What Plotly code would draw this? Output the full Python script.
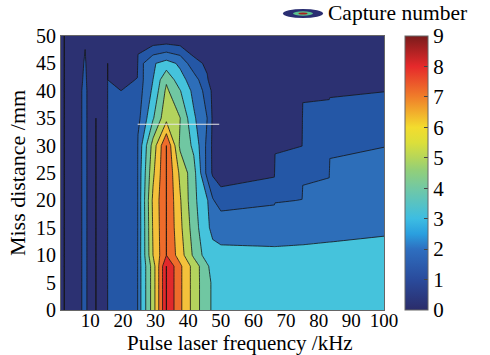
import plotly.graph_objects as go

# ---------------- data ----------------
freq_khz = [1, 2, 5, 8.4, 10, 11.7, 13.5, 15.3, 19.4, 24.4, 24.6, 29.2, 33.3,
            37.5, 41.7, 45.8, 47.5, 50, 66.4, 66.6, 74.9, 75.1, 83.2, 83.4, 100]
miss_mm = [0, 5, 8, 10, 15, 20, 25, 30, 35, 40, 42, 45, 50]

# capture number, one row per miss distance (same order as miss_mm)
cap_y00 = [0, 1.0, 0.3, 1.3, 0.4, 1.0, 0.4, 1.0, 1.5, 1.6, 2.4, 5.5, 9, 7.2, 5.6, 4.2, 3.9, 3.45, 3.4, 3.4, 3.38, 3.38, 3.35, 3.35, 3.4]
cap_y05 = [0, 1.0, 0.3, 1.3, 0.4, 1.0, 0.4, 1.0, 1.5, 1.6, 2.4, 5.5, 9, 7.2, 5.6, 4.2, 3.9, 3.27, 3.24, 3.24, 3.24, 3.24, 3.22, 3.22, 3.26]
cap_y08 = [0, 1.0, 0.3, 1.3, 0.4, 1.0, 0.4, 1.0, 1.5, 1.6, 2.4, 5.5, 9, 7.2, 5.6, 4.15, 3.6, 3.17, 3.15, 3.15, 3.15, 3.15, 3.14, 3.14, 3.17]
cap_y10 = [0, 1.0, 0.3, 1.3, 0.4, 1.0, 0.4, 1.0, 1.5, 1.6, 2.35, 6.0, 8, 6.5, 4.8, 3.5, 3.2, 3.12, 3.09, 3.09, 3.09, 3.09, 3.09, 3.09, 3.11]
cap_y15 = [0, 1.0, 0.3, 1.3, 0.4, 1.0, 0.4, 1.0, 1.5, 1.6, 2.3, 6.1, 8, 6.25, 4.5, 3.1, 2.85, 2.8, 2.8, 2.8, 2.85, 2.85, 2.9, 2.9, 2.95]
cap_y20 = [0, 1.0, 0.3, 1.3, 0.4, 1.0, 0.4, 1.0, 1.5, 1.6, 2.3, 6.2, 8, 6.1, 4.25, 3.1, 2.1, 1.49, 1.84, 1.92, 2.02, 2.23, 2.37, 2.55, 2.62]
cap_y25 = [0, 1.0, 0.3, 1.3, 0.4, 1.0, 0.4, 1.0, 1.5, 1.6, 2.3, 5.8, 8, 5.79, 4.35, 1.71, 0.85, 0.5, 0.85, 1.34, 1.49, 1.81, 1.92, 2.21, 2.30]
cap_y30 = [0, 1.0, 0.3, 1.3, 0.4, 1.0, 0.4, 1.0, 1.5, 1.6, 2.2, 5.4, 8, 4.8, 3.8, 1.75, 0.8, 0.4, 0.81, 0.85, 0.99, 1.49, 1.58, 1.81, 1.98]
cap_y35 = [0, 1.0, 0.3, 1.3, 0.4, 1.0, 0.4, 1.0, 1.5, 1.5, 1.7, 3.9, 5.7, 5.02, 3.16, 2.0, 0.85, 0.35, 0.66, 0.75, 0.79, 1.18, 1.23, 1.33, 1.48]
cap_y40 = [0, 1.0, 0.3, 1.3, 0.4, 0.5, 0.4, 1.0, 1.0, 1.3, 1.5, 3.2, 5.2, 4.05, 2.71, 1.63, 0.75, 0.3, 0.51, 0.56, 0.59, 0.86, 0.89, 0.89, 0.98]
cap_y42 = [0, 1.0, 0.3, 1.2, 0.4, 0.4, 0.4, 1.0, 0.4, 1.1, 1.45, 3.0, 4.85, 3.36, 2.52, 1.1, 0.5, 0.3, 0.45, 0.49, 0.51, 0.73, 0.75, 0.75, 0.82]
cap_y45 = [0, 1.0, 0.3, 1.1, 0.4, 0.3, 0.4, 1.0, 0.3, 0.3, 1.5, 2.89, 3.4, 2.82, 1.32, 0.83, 0.4, 0.2, 0.35, 0.38, 0.40, 0.53, 0.54, 0.54, 0.59]
cap_y50 = [0, 1.0, 0.3, 0.9, 0.4, 0.2, 0.2, 0.3, 0.1, 0.1, 0, 0, 0, 0, 0, 0, 0, 0.1, 0.2, 0.2, 0.2, 0.2, 0.2, 0.2, 0.2]
capture = [cap_y00, cap_y05, cap_y08, cap_y10, cap_y15, cap_y20, cap_y25,
           cap_y30, cap_y35, cap_y40, cap_y42, cap_y45, cap_y50]

x_ticks = [10, 20, 30, 40, 50, 60, 70, 80, 90, 100]
y_ticks = [0, 5, 10, 15, 20, 25, 30, 35, 40, 45, 50]
cb_ticks = [0, 1, 2, 3, 4, 5, 6, 7, 8, 9]

marker_line_x = [24.5, 49.5]
marker_line_y = [33.9, 33.9]

# ---------------- styles ----------------
# colours of the filled bands 0-1, 1-2, ..., 8-9
band_colors = ['#2c3172', '#2457a6', '#2d6eb9', '#45c3dc', '#70c7a2',
               '#b3d35d', '#f4c13b', '#ee6c2b', '#e1292b']
# plotly samples band k at fraction (k + 1.5)/10 of this scale
steps = [band_colors[0]] + band_colors
fill_scale = []
for i, c in enumerate(steps):
    fill_scale.append([i / len(steps), c])
    fill_scale.append([(i + 1) / len(steps), c])

cbar_scale = [[0.0, '#2b2c6a'], [1/9, '#2a4b9c'], [2/9, '#2e6fc0'], [2.5/9, '#2a9fdf'],
              [3/9, '#3dbde2'], [4/9, '#72c8a4'], [4.6/9, '#93cf78'], [5/9, '#b5d65a'],
              [5.5/9, '#dcdf3a'], [6/9, '#f3dc2e'], [7/9, '#f07e2a'], [8/9, '#e6292b'],
              [1.0, '#7a1b1b']]

FONT = 'Liberation Serif'
W, H = 490, 355
L, R, T, B = 61, 106, 36, 45
PW, PH = W - L - R, H - T - B


def px2x(px):
    return (px - L) / PW


def px2y(py):
    return (H - B - py) / PH


fig = go.Figure()
fig.add_trace(go.Contour(
    x=freq_khz, y=miss_mm, z=capture,
    autocontour=False,
    contours=dict(start=-0.001, end=8.999, size=1, coloring='fill', showlines=True),
    line=dict(color='#151515', width=0.8, smoothing=0),
    colorscale=fill_scale, showscale=False, hoverinfo='skip', showlegend=False))

fig.add_trace(go.Scatter(
    x=marker_line_x, y=marker_line_y, mode='lines',
    line=dict(color='#e6e6e6', width=1.2), hoverinfo='skip', showlegend=False))

fig.add_trace(go.Scatter(
    x=[None], y=[None], mode='markers', hoverinfo='skip', showlegend=False,
    marker=dict(color=[0], cmin=0, cmax=9, colorscale=cbar_scale, showscale=True,
                colorbar=dict(x=px2x(405), xanchor='left', xpad=0, ypad=0,
                              y=0.5, yanchor='middle', len=1, lenmode='fraction',
                              thickness=23, tickvals=cb_ticks, ticks='inside',
                              ticklen=4, tickcolor='#444', outlinewidth=1,
                              outlinecolor='#666',
                              tickfont=dict(family=FONT, size=21, color='black')))))

# legend icon (concentric ellipses) and text
icon = [(283, 9, 323, 18, '#2a2e72'), (293, 11.3, 313, 15.7, '#5cc28e'),
        (298.5, 12.4, 307.5, 14.6, '#a8201f')]
shapes = []
for x0, y0, x1, y1, col in icon:
    shapes.append(dict(type='circle', xref='paper', yref='paper',
                       x0=px2x(x0), x1=px2x(x1), y0=px2y(y1), y1=px2y(y0),
                       fillcolor=col, line=dict(width=0)))

fig.update_layout(
    width=W, height=H, margin=dict(l=L, r=R, t=T, b=B),
    paper_bgcolor='white', plot_bgcolor='white',
    font=dict(family=FONT, color='black'),
    shapes=shapes,
    annotations=[
        dict(text='Capture number', xref='paper', yref='paper',
             x=px2x(326), y=px2y(13), xanchor='left', yanchor='middle',
             showarrow=False, font=dict(family=FONT, size=21.5, color='black')),
        dict(text='Pulse laser frequency /kHz', xref='paper', yref='paper',
             x=px2x(240), y=px2y(343), xanchor='center', yanchor='middle',
             showarrow=False, font=dict(family=FONT, size=21, color='black')),
    ],
    xaxis=dict(range=[1, 100], tickvals=x_ticks, showgrid=False, zeroline=False,
               showline=True, linecolor='#666', linewidth=1, mirror=True, ticks='',
               ticklabelstandoff=-7,
               tickfont=dict(family=FONT, size=19, color='black'),
               automargin=False),
    yaxis=dict(range=[0, 50], tickvals=y_ticks, showgrid=False, zeroline=False,
               showline=True, linecolor='#666', linewidth=1, mirror=True, ticks='',
               tickfont=dict(family=FONT, size=20, color='black'),
               title=dict(text='Miss distance /mm', standoff=4,
                          font=dict(family=FONT, size=22, color='black')),
               automargin=False),
)

fig.write_html('out.html')
